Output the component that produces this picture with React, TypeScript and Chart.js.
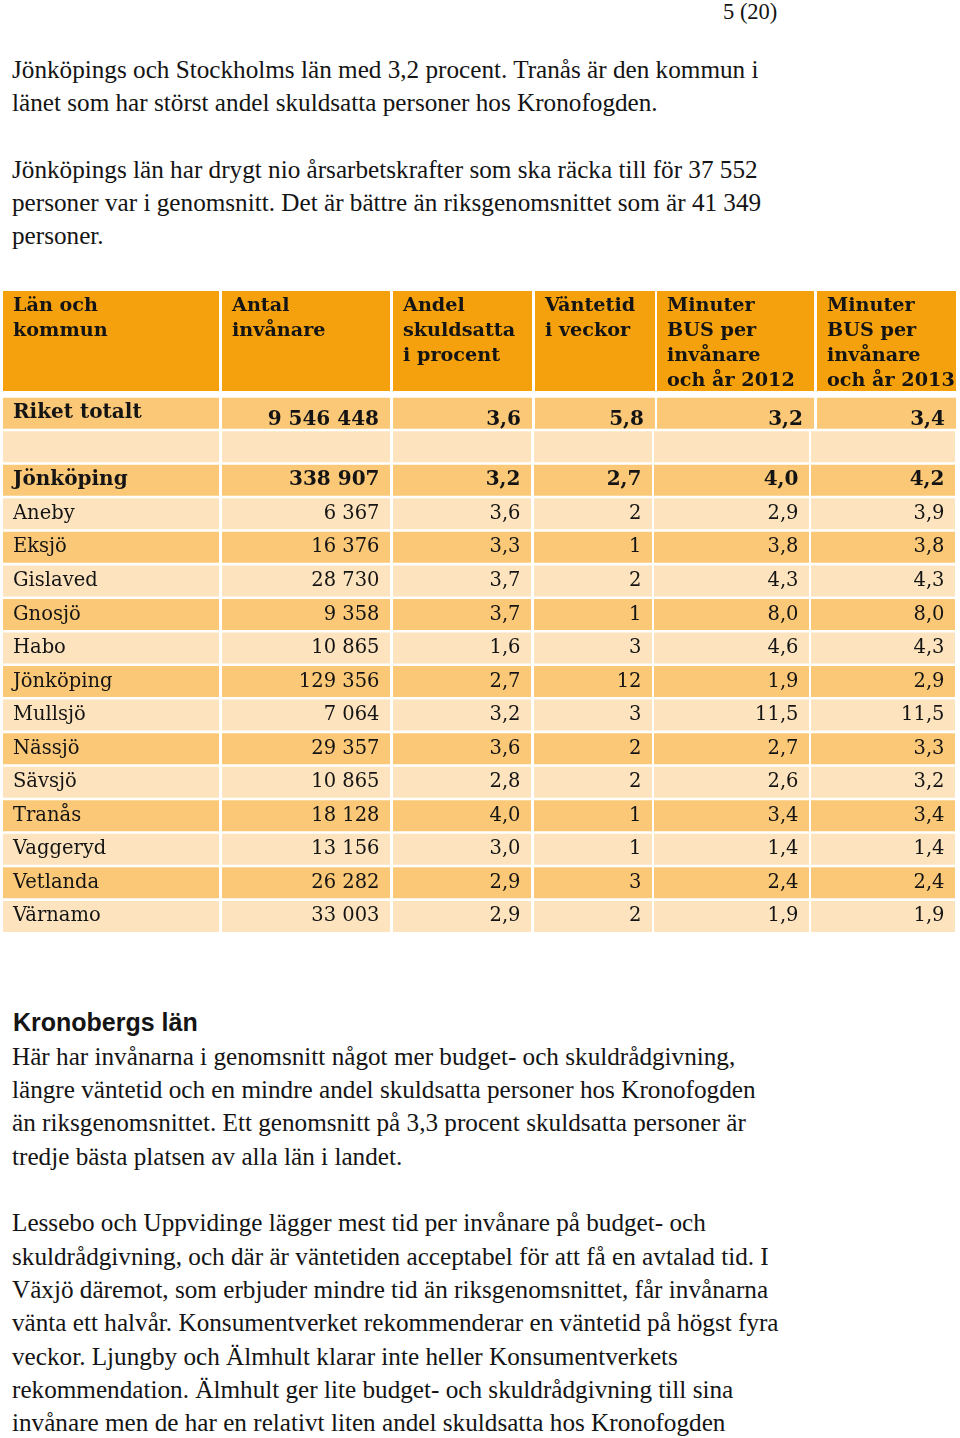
import React, { useEffect, useRef } from 'react';
import { Chart, registerables } from 'chart.js';

Chart.register(...registerables);

// ---------- DATA ----------
const headers: string[][] = [
  ['Län och', 'kommun'],
  ['Antal', 'invånare'],
  ['Andel', 'skuldsatta', 'i procent'],
  ['Väntetid', 'i veckor'],
  ['Minuter', 'BUS per', 'invånare', 'och år 2012'],
  ['Minuter', 'BUS per', 'invånare', 'och år 2013'],
];
const riketLabel = 'Riket totalt';
const riketValues = [9546448, 3.6, 5.8, 3.2, 3.4];

const kommuner = [
  'Jönköping', 'Aneby', 'Eksjö', 'Gislaved', 'Gnosjö', 'Habo', 'Jönköping',
  'Mullsjö', 'Nässjö', 'Sävsjö', 'Tranås', 'Vaggeryd', 'Vetlanda', 'Värnamo',
];
const boldRows = [true, false, false, false, false, false, false, false, false, false, false, false, false, false];
const invanare = [338907, 6367, 16376, 28730, 9358, 10865, 129356, 7064, 29357, 10865, 18128, 13156, 26282, 33003];
const andelSkuldsatta = [3.2, 3.6, 3.3, 3.7, 3.7, 1.6, 2.7, 3.2, 3.6, 2.8, 4.0, 3.0, 2.9, 2.9];
const vantetidVeckor = [2.7, 2, 1, 2, 1, 3, 12, 3, 2, 2, 1, 1, 3, 2];
const minuterBus2012 = [4.0, 2.9, 3.8, 4.3, 8.0, 4.6, 1.9, 11.5, 2.7, 2.6, 3.4, 1.4, 2.4, 1.9];
const minuterBus2013 = [4.2, 3.9, 3.8, 4.3, 8.0, 4.3, 2.9, 11.5, 3.3, 3.2, 3.4, 1.4, 2.4, 1.9];

const pageNumber = '5 (20)';
const para1 = [
  'Jönköpings och Stockholms län med 3,2 procent. Tranås är den kommun i',
  'länet som har störst andel skuldsatta personer hos Kronofogden.',
  '',
  'Jönköpings län har drygt nio årsarbetskrafter som ska räcka till för 37 552',
  'personer var i genomsnitt. Det är bättre än riksgenomsnittet som är 41 349',
  'personer.',
];
const heading = 'Kronobergs län';
const para2 = [
  'Här har invånarna i genomsnitt något mer budget- och skuldrådgivning,',
  'längre väntetid och en mindre andel skuldsatta personer hos Kronofogden',
  'än riksgenomsnittet. Ett genomsnitt på 3,3 procent skuldsatta personer är',
  'tredje bästa platsen av alla län i landet.',
  '',
  'Lessebo och Uppvidinge lägger mest tid per invånare på budget- och',
  'skuldrådgivning, och där är väntetiden acceptabel för att få en avtalad tid. I',
  'Växjö däremot, som erbjuder mindre tid än riksgenomsnittet, får invånarna',
  'vänta ett halvår. Konsumentverket rekommenderar en väntetid på högst fyra',
  'veckor. Ljungby och Älmhult klarar inte heller Konsumentverkets',
  'rekommendation. Älmhult ger lite budget- och skuldrådgivning till sina',
  'invånare men de har en relativt liten andel skuldsatta hos Kronofogden',
];

// ---------- LAYOUT / STYLE ----------
const CANVAS_TOP = 285;
const CANVAS_H = 655;
const ROW0_CENTER = 480.25;
const ROW_PITCH = 33.55;
const CELL_H = 31;
const HEAD_TOP = 291;
const HEAD_H = 100;
const HEAD_EDGES = [[3, 219], [222, 390], [393, 532], [535, 655], [657, 814], [817, 956]];
const BODY_EDGES = [[3, 219], [222, 390], [393, 531], [534, 652], [654, 809], [811, 955]];
const C_HEAD = '#F4A10D';
const C_DARK = '#FAC877';
const C_LIGHT = '#FDE4BF';
const TEXT = '#141414';
const TABLE_FONT = '"DejaVu Serif", serif';
const HEAD_FS = 19.2;
const BODY_FS = 19.5;
const BOLD_FS = 20;

const yVal = (py: number) => (py - ROW0_CENTER) / ROW_PITCH;
const fmtInt = (n: number) => String(n).replace(/\B(?=(\d{3})+(?!\d))/g, ' ');
const fmtDec = (v: number) => v.toFixed(1).replace('.', ',');
const fmtWait = (v: number) => (Number.isInteger(v) ? String(v) : fmtDec(v));

const rowStrings = (i: number) => [
  fmtInt(invanare[i]),
  fmtDec(andelSkuldsatta[i]),
  fmtWait(vantetidVeckor[i]),
  fmtDec(minuterBus2012[i]),
  fmtDec(minuterBus2013[i]),
];
const riketStrings = [
  fmtInt(riketValues[0]),
  fmtDec(riketValues[1]),
  fmtWait(riketValues[2]),
  fmtDec(riketValues[3]),
  fmtDec(riketValues[4]),
];

const tableTextPlugin = {
  id: 'tableText',
  afterDatasetsDraw(chart: any) {
    const { ctx, scales } = chart;
    const xs = scales.x;
    const ys = scales.y;
    const px = (v: number) => xs.getPixelForValue(v);
    const py = (v: number) => ys.getPixelForValue(v);
    ctx.save();
    ctx.fillStyle = TEXT;
    ctx.textBaseline = 'middle';

    // header
    ctx.font = `bold ${HEAD_FS}px ${TABLE_FONT}`;
    ctx.textAlign = 'left';
    const headTop = py(yVal(HEAD_TOP));
    headers.forEach((lines, c) => {
      const left = px(HEAD_EDGES[c][0]) + 10;
      lines.forEach((t, k) => ctx.fillText(t, left, headTop + 15 + k * 25));
    });

    // Riket totalt row
    const rc = py(-2);
    ctx.font = `bold ${BOLD_FS}px ${TABLE_FONT}`;
    ctx.fillText(riketLabel, px(BODY_EDGES[0][0]) + 10, rc);
    ctx.textAlign = 'right';
    riketStrings.forEach((s, c) => {
      ctx.fillText(s, px(HEAD_EDGES[c + 1][1]) - 11, rc + 6.5);
    });

    // body rows
    kommuner.forEach((name, i) => {
      const cy = py(i);
      ctx.font = boldRows[i] ? `bold ${BOLD_FS}px ${TABLE_FONT}` : `${BODY_FS}px ${TABLE_FONT}`;
      ctx.textAlign = 'left';
      ctx.fillText(name, px(BODY_EDGES[0][0]) + 10, cy);
      ctx.textAlign = 'right';
      rowStrings(i).forEach((s, c) => {
        ctx.fillText(s, px(BODY_EDGES[c + 1][1]) - 10.5, cy);
      });
    });
    ctx.restore();
  },
};

function TableChart() {
  const ref = useRef<HTMLCanvasElement | null>(null);
  useEffect(() => {
    if (!ref.current) return;
    const mk = (edges: number[][], y: number) => edges.map((e) => ({ x: e, y }));
    const darkRows: any[] = [];
    const lightRows: any[] = [];
    kommuner.forEach((_, i) => {
      (i % 2 === 0 ? darkRows : lightRows).push(...mk(BODY_EDGES, i));
    });
    const ds = (data: any[], color: string, thick: number) => ({
      data,
      backgroundColor: color,
      borderWidth: 0,
      barThickness: thick,
      grouped: false,
      inflateAmount: 0,
    });
    const chart = new Chart(ref.current, {
      type: 'bar',
      data: {
        datasets: [
          ds(mk(HEAD_EDGES.slice(0, headers.length), yVal(HEAD_TOP + HEAD_H / 2)), C_HEAD, HEAD_H),
          ds(mk(HEAD_EDGES, -2), C_DARK, CELL_H),
          ds(mk(BODY_EDGES, -1), C_LIGHT, CELL_H),
          ds(darkRows, C_DARK, CELL_H),
          ds(lightRows, C_LIGHT, CELL_H),
        ] as any,
      },
      options: {
        indexAxis: 'y',
        responsive: false,
        maintainAspectRatio: false,
        animation: false,
        layout: { padding: 0, autoPadding: false },
        plugins: { legend: { display: false }, tooltip: { enabled: false }, title: { display: false } },
        events: [],
        scales: {
          x: { type: 'linear', min: 0, max: 960, display: false, offset: false, bounds: 'data', grace: 0 },
          y: {
            type: 'linear',
            reverse: true,
            min: yVal(CANVAS_TOP),
            max: yVal(CANVAS_TOP + CANVAS_H),
            display: false,
            offset: false,
            bounds: 'data',
            grace: 0,
          },
        },
      } as any,
      plugins: [tableTextPlugin],
    });
    return () => chart.destroy();
  }, []);
  return (
    <canvas
      ref={ref}
      width={960}
      height={CANVAS_H}
      style={{ position: 'absolute', left: 0, top: CANVAS_TOP, width: 960, height: CANVAS_H, display: 'block' }}
    />
  );
}

const SERIF = '"Liberation Serif", "Times New Roman", serif';
const LINE = 33.3;
const PFS = 25.2;

function Line({ text, baseline, left = 12, size = PFS, font = SERIF, bold = false }: any) {
  const asc = font === SERIF ? 0.8375 : 0.8465;
  return (
    <div
      style={{
        position: 'absolute',
        left,
        top: baseline - asc * size,
        fontFamily: font,
        fontSize: size,
        lineHeight: 1,
        fontWeight: bold ? 'bold' : 'normal',
        whiteSpace: 'nowrap',
        color: TEXT,
      }}
    >
      {text}
    </div>
  );
}

export default function App() {
  return (
    <div
      style={{
        position: 'absolute',
        left: 0,
        top: 0,
        width: 960,
        height: 1438,
        overflow: 'hidden',
        background: '#fff',
      }}
    >
      <Line text={pageNumber} baseline={20} left={723} size={22.5} />
      {para1.map((t, i) => (t ? <Line key={'a' + i} text={t} baseline={78 + i * LINE} /> : null))}
      <TableChart />
      <Line text={heading} baseline={1031} left={13} size={25} bold font={'"Liberation Sans", Arial, sans-serif'} />
      {para2.map((t, i) => (t ? <Line key={'b' + i} text={t} baseline={1065 + i * LINE} /> : null))}
    </div>
  );
}
